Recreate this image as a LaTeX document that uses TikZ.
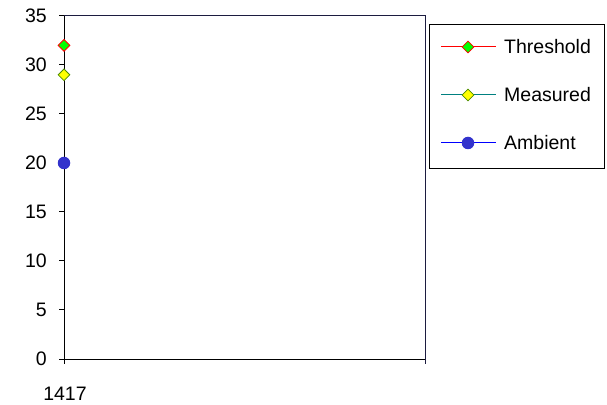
\documentclass[tikz,border=0pt]{standalone}
\usepackage{fontspec}
\setmainfont{Liberation Sans}
\usetikzlibrary{shapes.geometric}
\definecolor{axisnavy}{HTML}{1C1C40}
\definecolor{tealline}{HTML}{008080}
\definecolor{ambientblue}{HTML}{3333CC}
\definecolor{markgreen}{HTML}{00FF00}
\definecolor{markyellow}{HTML}{FFFF00}
\definecolor{yellowedge}{HTML}{4C8C00}

\begin{document}
\begin{tikzpicture}[x=1pt,y=1pt,
    lbl/.style={font=\fontsize{19.5}{21}\selectfont, inner sep=0pt},
    dmark/.style={diamond, draw, inner sep=0pt, minimum size=12pt, line width=0.8pt},
    cmark/.style={circle, fill=ambientblue, inner sep=0pt, minimum size=12.5pt}]

    \useasboundingbox (0,0) rectangle (607,404);

    % plot area, one unit of y is 9.8pt
    \begin{scope}[shift={(64,45)},y=9.8pt]
        \draw[axisnavy,line width=1pt] (0,35) -- (361,35) -- (361,0);
        \draw[black,line width=1pt] (0,35) -- (0,0) -- (361,0);
        \draw[axisnavy,line width=1pt] (361,0) -- (361,-5pt);
        \draw[black,line width=1pt] (0,0) -- (0,-5pt);
        \foreach \v in {0,5,...,35}{
            \draw[black,line width=1pt] (-5,\v) -- (0,\v);
            \node[lbl,anchor=east] (ytick\v) at (-17,\v) {\v};
        }
        \node[lbl] (xtick) at (1,-3.5) {1417};

        \node[dmark,draw=red,fill=markgreen] (threshold) at (0,32) {};
        \node[dmark,draw=yellowedge,fill=markyellow] (measured) at (0,29) {};
        \node[cmark] (ambient) at (0,20) {};
    \end{scope}

    % legend
    \draw[black,line width=1pt] (429,235) rectangle (604,379);

    \coordinate (thrA) at (441,357);
    \coordinate (thrB) at (496,357);
    \coordinate (meaA) at (441,309);
    \coordinate (meaB) at (496,309);
    \coordinate (ambA) at (441,261);
    \coordinate (ambB) at (496,261);

    \draw[red,line width=1pt] (thrA) -- (thrB);
    \draw[tealline,line width=1pt] (meaA) -- (meaB);
    \draw[blue,line width=1pt] (ambA) -- (ambB);

    \node[dmark,draw=red,fill=markgreen] (thrmark) at (468,357) {};
    \node[dmark,draw=yellowedge,fill=markyellow] (meamark) at (468,309) {};
    \node[cmark] (ambmark) at (468,261) {};

    \node[lbl,anchor=west] (thrtext) at (504,357) {Threshold};
    \node[lbl,anchor=west] (meatext) at (504,309) {Measured};
    \node[lbl,anchor=west] (ambtext) at (504,261) {Ambient};
\end{tikzpicture}
\end{document}
